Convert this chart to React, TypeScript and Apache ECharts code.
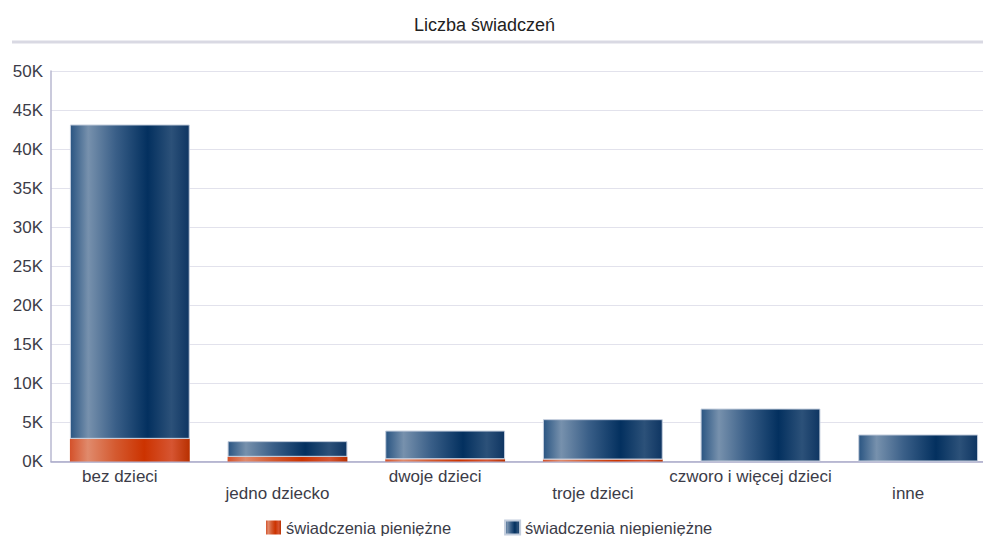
import React, { useEffect, useRef } from "react";
import * as echarts from "echarts";

const title = "Liczba świadczeń";
const categories = ["bez dzieci", "jedno dziecko", "dwoje dzieci", "troje dzieci", "czworo i więcej dzieci", "inne"];
const seriesNames = ["świadczenia pieniężne", "świadczenia niepieniężne"];
const pieniezne = [2900, 600, 300, 250, 0, 0];
const niepieniezne = [40250, 2010, 3660, 5170, 6780, 3460];

const blueGrad = new echarts.graphic.LinearGradient(0, 0, 1, 0, [
  { offset: 0, color: "#2a5582" },
  { offset: 0.15, color: "#7791ad" },
  { offset: 0.38, color: "#3a5f88" },
  { offset: 0.65, color: "#03305f" },
  { offset: 0.85, color: "#2c5179" },
  { offset: 1, color: "#0e3562" },
]);
const redGrad = new echarts.graphic.LinearGradient(0, 0, 1, 0, [
  { offset: 0, color: "#d4512a" },
  { offset: 0.15, color: "#e08a6c" },
  { offset: 0.38, color: "#d45a30" },
  { offset: 0.62, color: "#cc3300" },
  { offset: 0.85, color: "#d65532" },
  { offset: 1, color: "#b83000" },
]);

export default function App() {
  const ref = useRef<HTMLDivElement>(null);
  useEffect(() => {
    const chart = echarts.init(ref.current!, null, { renderer: "svg" });
    chart.setOption({
      animation: false,
      textStyle: { fontFamily: "Liberation Sans, Arial, sans-serif" },
      title: {
        text: title,
        left: 409,
        top: 11,
        textStyle: { fontSize: 18, fontWeight: "normal", color: "#222" },
      },
      graphic: [
        {
          type: "line",
          shape: { x1: 12, y1: 42, x2: 983, y2: 42 },
          style: { stroke: "#d9d9e3", lineWidth: 3 },
        },
      ],
      legend: {
        top: 519,
        left: 266,
        padding: 0,
        itemWidth: 15,
        itemHeight: 14,
        itemGap: 53,
        icon: "rect",
        textStyle: { fontSize: 16.5, lineHeight: 16, color: "#3c3c48" },
        data: seriesNames,
      },
      grid: {
        left: 51,
        right: -14,
        top: 71,
        bottom: 74.5,
        containLabel: false,
        outerBoundsMode: "none",
      },
      xAxis: {
        type: "category",
        data: categories,
        axisLine: { lineStyle: { color: "#a8a8c8", width: 1.5 } },
        axisTick: { show: false },
        axisLabel: {
          interval: 0,
          fontSize: 17,
          color: "#3c3c48",
          margin: 6,
          lineHeight: 17,
          padding: [0, 20, 0, 0],
          formatter: (v: string, i: number) => (i % 2 === 1 ? "\n" + v : v),
        },
      },
      yAxis: {
        type: "value",
        min: 0,
        max: 50000,
        interval: 5000,
        axisLine: { show: true, lineStyle: { color: "#b8b8d0", width: 1.5 } },
        axisTick: { show: false },
        splitLine: { lineStyle: { color: "#e2e2ec", width: 1 } },
        axisLabel: {
          fontSize: 17,
          color: "#3c3c48",
          margin: 8,
          formatter: (v: number) => v / 1000 + "K",
        },
      },
      series: [
        {
          name: seriesNames[0],
          type: "bar",
          stack: "total",
          barWidth: "76%",
          data: pieniezne,
          itemStyle: { color: redGrad },
        },
        {
          name: seriesNames[1],
          type: "bar",
          stack: "total",
          barWidth: "76%",
          data: niepieniezne,
          itemStyle: { color: blueGrad, borderColor: "#c4cedd", borderWidth: 1 },
        },
      ],
    });
    return () => chart.dispose();
  }, []);
  return <div ref={ref} style={{ width: 983, height: 536, position: "absolute", left: 0, top: 0 }} />;
}
